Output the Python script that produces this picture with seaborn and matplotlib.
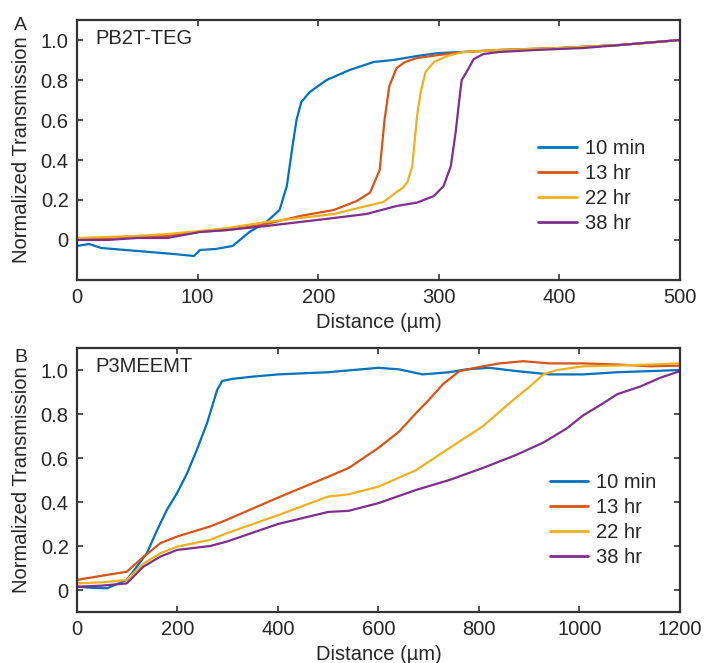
import pandas as pd
import matplotlib
matplotlib.use("Agg")
import matplotlib.pyplot as plt
import seaborn as sns

times = ['10 min', '13 hr', '22 hr', '38 hr']
colors = ['#0072BD', '#D95319', '#EDB120', '#7E2F8E']

# Panel A: PB2T-TEG
a_10min_x = [0, 10, 20, 40, 60, 80, 97, 102, 115, 129, 143, 157, 168, 174, 178, 182, 186, 193,
             207, 226, 246, 262, 282, 300, 320, 350, 400, 450, 500]
a_10min_y = [-0.03, -0.02, -0.04, -0.05, -0.06, -0.07, -0.08, -0.05, -0.045, -0.03, 0.04, 0.09, 0.15,
             0.27, 0.44, 0.60, 0.69, 0.74, 0.80, 0.85, 0.89, 0.90, 0.92, 0.935, 0.94, 0.95, 0.96, 0.975, 1.0]
a_13hr_x = [0, 25, 50, 75, 100, 125, 157, 185, 213, 232, 243, 251, 255, 259, 265, 272, 282,
            300, 320, 350, 400, 450, 500]
a_13hr_y = [0.0, 0.01, 0.02, 0.02, 0.04, 0.05, 0.08, 0.12, 0.15, 0.195, 0.237, 0.35, 0.60, 0.77, 0.86,
            0.89, 0.91, 0.925, 0.94, 0.95, 0.96, 0.975, 1.0]
a_22hr_x = [0, 25, 50, 75, 102, 125, 157, 185, 213, 240, 254, 265, 270, 274, 278, 282, 285, 289,
            296, 307, 320, 350, 400, 450, 500]
a_22hr_y = [0.01, 0.015, 0.02, 0.03, 0.045, 0.06, 0.09, 0.11, 0.13, 0.17, 0.19, 0.24, 0.26, 0.29,
            0.37, 0.62, 0.74, 0.84, 0.89, 0.92, 0.94, 0.95, 0.96, 0.975, 1.0]
a_38hr_x = [0, 25, 50, 75, 102, 125, 157, 185, 213, 240, 265, 282, 296, 304, 310, 314, 317, 319, 323,
            329, 337, 350, 380, 420, 460, 500]
a_38hr_y = [0.0, 0.0, 0.01, 0.01, 0.04, 0.05, 0.07, 0.09, 0.11, 0.13, 0.17, 0.187, 0.22, 0.27, 0.37,
            0.54, 0.70, 0.80, 0.84, 0.905, 0.93, 0.94, 0.95, 0.96, 0.98, 1.0]

# Panel B: P3MEEMT
b_10min_x = [0, 30, 60, 99, 119, 139, 159, 179, 199, 219, 239, 259, 279, 289, 310, 350, 400, 450, 500,
             550, 600, 641, 688, 741, 775, 821, 875, 941, 1008, 1075, 1141, 1200]
b_10min_y = [0.015, 0.01, 0.008, 0.046, 0.106, 0.167, 0.27, 0.365, 0.44, 0.53, 0.64, 0.76, 0.91, 0.95,
             0.96, 0.97, 0.98, 0.985, 0.99, 1.0, 1.01, 1.003, 0.98, 0.99, 1.003, 1.01, 0.995, 0.98, 0.98,
             0.99, 0.995, 1.0]
b_13hr_x = [0, 50, 99, 132, 166, 199, 265, 298, 400, 500, 541, 600, 641, 675, 701, 728, 761, 808, 841,
            888, 941, 1008, 1075, 1141, 1200]
b_13hr_y = [0.046, 0.065, 0.083, 0.15, 0.213, 0.243, 0.289, 0.319, 0.42, 0.515, 0.555, 0.646, 0.72,
            0.805, 0.866, 0.935, 0.995, 1.017, 1.03, 1.04, 1.03, 1.03, 1.025, 1.017, 1.02]
b_22hr_x = [0, 50, 99, 132, 166, 199, 265, 298, 400, 500, 541, 600, 675, 741, 808, 861, 901, 928, 955,
            1008, 1075, 1141, 1200]
b_22hr_y = [0.03, 0.035, 0.046, 0.12, 0.167, 0.197, 0.228, 0.258, 0.34, 0.425, 0.435, 0.47, 0.545,
            0.645, 0.745, 0.85, 0.925, 0.98, 1.0, 1.017, 1.02, 1.025, 1.03]
b_38hr_x = [0, 50, 99, 132, 166, 199, 265, 298, 400, 500, 541, 600, 675, 741, 808, 875, 928, 975,
            1008, 1041, 1075, 1121, 1161, 1200]
b_38hr_y = [0.015, 0.02, 0.03, 0.106, 0.152, 0.182, 0.20, 0.22, 0.30, 0.355, 0.36, 0.395, 0.455, 0.50,
            0.555, 0.615, 0.67, 0.735, 0.795, 0.84, 0.89, 0.925, 0.965, 0.995]

y_ticks = [0, 0.2, 0.4, 0.6, 0.8, 1.0]
y_tick_labels = ['0', '0.2', '0.4', '0.6', '0.8', '1.0']
a_x_ticks = [0, 100, 200, 300, 400, 500]
b_x_ticks = [0, 200, 400, 600, 800, 1000, 1200]


def make_df(xs, ys):
    parts = []
    for t, x, y in zip(times, xs, ys):
        parts.append(pd.DataFrame({'Distance': x, 'T': y, 'Time': t}))
    return pd.concat(parts, ignore_index=True)


df_a = make_df([a_10min_x, a_13hr_x, a_22hr_x, a_38hr_x], [a_10min_y, a_13hr_y, a_22hr_y, a_38hr_y])
df_b = make_df([b_10min_x, b_13hr_x, b_22hr_x, b_38hr_x], [b_10min_y, b_13hr_y, b_22hr_y, b_38hr_y])

sns.set_theme(style='ticks')
plt.rcParams['font.family'] = ['Liberation Sans', 'DejaVu Sans']
fs = 14.5
ink = '#262626'

fig = plt.figure(figsize=(7.07, 6.63), dpi=100)
ax_a = fig.add_axes([0.1089, 0.5777, 0.8529, 0.3921])
ax_b = fig.add_axes([0.1089, 0.0769, 0.8529, 0.3982])

panels = [
    (ax_a, df_a, (0, 500), (-0.2, 1.1), a_x_ticks, 'PB2T-TEG', (0.765, 0.36)),
    (ax_b, df_b, (0, 1200), (-0.1, 1.1), b_x_ticks, 'P3MEEMT', (0.784, 0.347)),
]

for ax, df, xl, yl, xt, name, leg_pos in panels:
    sns.lineplot(data=df, x='Distance', y='T', hue='Time', palette=colors,
                 estimator=None, sort=False, lw=1.6, ax=ax)
    ax.set_xlim(*xl)
    ax.set_ylim(*yl)
    ax.set_xticks(xt)
    ax.set_xticklabels([str(v) for v in xt])
    ax.set_yticks(y_ticks)
    ax.set_yticklabels(y_tick_labels)
    ax.tick_params(direction='in', top=True, right=True, length=4, width=1.2,
                   labelsize=fs, colors='#333333', labelcolor=ink, pad=6)
    for s in ax.spines.values():
        s.set_linewidth(1.6)
        s.set_color('#333333')
    ax.set_xlabel('Distance (µm)', fontsize=fs, color=ink, labelpad=4)
    ax.set_ylabel('Normalized Transmission', fontsize=fs, color=ink, labelpad=7)
    ax.text(0.03, 0.93, name, transform=ax.transAxes, fontsize=fs, color=ink, va='center')
    handles, labels = ax.get_legend_handles_labels()
    ax.legend(handles, labels, loc='center left', bbox_to_anchor=leg_pos, frameon=False,
              fontsize=fs, handlelength=1.9, handletextpad=0.4, labelspacing=0.3, borderpad=0,
              borderaxespad=0)
    for line in ax.get_legend().get_lines():
        line.set_linewidth(2)
    for txt in ax.get_legend().get_texts():
        txt.set_color(ink)

fig.text(14 / 707, 1 - 30 / 663, 'A', fontsize=14, color=ink, va='baseline')
fig.text(14 / 707, 1 - 362 / 663, 'B', fontsize=14, color=ink, va='baseline')

fig.savefig('out.png', dpi=100)
